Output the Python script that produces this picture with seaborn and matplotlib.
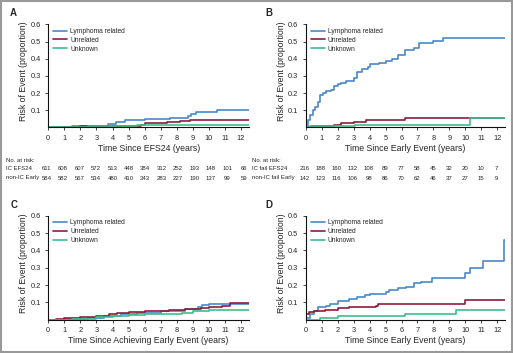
import matplotlib
matplotlib.use('Agg')
import matplotlib.pyplot as plt
import seaborn as sns
import pandas as pd

sns.set_style('ticks')
plt.rcParams['font.family'] = ['Liberation Sans', 'DejaVu Sans']

# ------------------- Data (step curves: event times and cumulative risk) -------------------
a_lymph_t = [0, 1.5, 3.0, 3.7, 4.2, 4.8, 5.5, 6.0, 7.6, 8.7, 8.9, 9.2, 10.5, 12.5]
a_lymph_y = [0, 0.005, 0.01, 0.02, 0.03, 0.04, 0.045, 0.05, 0.055, 0.065, 0.075, 0.09, 0.103, 0.103]
a_unrel_t = [0, 2.0, 3.5, 5.8, 6.0, 7.4, 8.2, 8.8, 12.5]
a_unrel_y = [0, 0.005, 0.01, 0.015, 0.025, 0.03, 0.035, 0.04, 0.04]
a_unkn_t = [0, 1.0, 2.5, 5.5, 12.5]
a_unkn_y = [0, 0.004, 0.008, 0.015, 0.015]

b_lymph_t = [0, 0.15, 0.3, 0.45, 0.6, 0.75, 0.9, 1.1, 1.3, 1.6, 1.8, 2.0, 2.2, 2.5, 3.0, 3.2, 3.5, 3.9, 4.0,
             4.6, 5.0, 5.4, 5.8, 6.2, 6.8, 7.1, 8.0, 8.6, 12.5]
b_lymph_y = [0, 0.04, 0.07, 0.1, 0.12, 0.15, 0.19, 0.2, 0.21, 0.22, 0.24, 0.25, 0.26, 0.27, 0.29, 0.32,
             0.34, 0.35, 0.37, 0.375, 0.385, 0.4, 0.42, 0.45, 0.465, 0.49, 0.505, 0.52, 0.52]
b_unrel_t = [0, 0.4, 1.8, 2.2, 3.0, 3.8, 6.2, 12.5]
b_unrel_y = [0, 0.01, 0.015, 0.025, 0.03, 0.04, 0.055, 0.055]
b_unkn_t = [0, 0.3, 3.1, 10.3, 12.5]
b_unkn_y = [0, 0.005, 0.015, 0.055, 0.055]

c_lymph_t = [0, 1.0, 2.5, 3.5, 4.5, 5.5, 7.0, 8.5, 9.3, 9.6, 10.0, 12.5]
c_lymph_y = [0, 0.005, 0.01, 0.02, 0.03, 0.04, 0.05, 0.06, 0.075, 0.085, 0.092, 0.092]
c_unrel_t = [0, 0.5, 1.0, 2.0, 3.0, 3.8, 4.3, 5.0, 6.0, 7.5, 8.5, 9.5, 10.0, 10.8, 11.3, 12.5]
c_unrel_y = [0, 0.005, 0.01, 0.015, 0.02, 0.03, 0.04, 0.045, 0.05, 0.055, 0.06, 0.065, 0.07, 0.08, 0.095, 0.095]
c_unkn_t = [0, 1.5, 3.0, 4.0, 5.0, 6.0, 8.0, 8.3, 9.0, 10.0, 12.5]
c_unkn_y = [0, 0.005, 0.015, 0.02, 0.025, 0.03, 0.035, 0.04, 0.05, 0.055, 0.055]

d_lymph_t = [0, 0.3, 0.5, 0.8, 1.3, 1.5, 2.0, 2.7, 3.2, 3.7, 4.0, 5.0, 5.2, 5.8, 6.3, 6.8, 7.2, 7.9,
             10.0, 10.3, 11.1, 12.4, 12.5]
d_lymph_y = [0.01, 0.03, 0.05, 0.07, 0.08, 0.09, 0.11, 0.12, 0.13, 0.14, 0.15, 0.16, 0.17, 0.18, 0.19,
             0.21, 0.22, 0.24, 0.27, 0.30, 0.34, 0.46, 0.46]
d_unrel_t = [0, 0.2, 0.5, 1.2, 2.0, 2.7, 4.4, 4.5, 10.0, 12.5]
d_unrel_y = [0.03, 0.045, 0.05, 0.055, 0.065, 0.075, 0.08, 0.09, 0.115, 0.115]
d_unkn_t = [0, 0.9, 2.0, 6.2, 9.4, 12.5]
d_unkn_y = [0, 0.01, 0.02, 0.032, 0.055, 0.055]

causes = ['Lymphoma related', 'Unrelated', 'Unknown']
colors = ['#4a87c9', '#8c1c3c', '#3dbe8c']

x_labels = ['Time Since EFS24 (years)', 'Time Since Early Event (years)',
            'Time Since Achieving Early Event (years)', 'Time Since Early Event (years)']
panel_letters = ['A', 'B', 'C', 'D']

risk_times = list(range(13))
a_risk_labels = ['IC EFS24', 'non-IC Early']
a_risk_ic = [611, 608, 607, 572, 513, 448, 384, 312, 252, 193, 148, 101, 66]
a_risk_nonic = [584, 582, 567, 534, 480, 410, 343, 283, 227, 190, 137, 99, 59]
b_risk_labels = ['IC fail EFS24', 'non-IC fail Early']
b_risk_ic = [216, 188, 160, 132, 108, 89, 77, 58, 45, 32, 20, 10, 7]
b_risk_nonic = [142, 123, 116, 106, 98, 86, 70, 62, 46, 37, 27, 15, 9]

panels = [
    [(a_lymph_t, a_lymph_y), (a_unrel_t, a_unrel_y), (a_unkn_t, a_unkn_y)],
    [(b_lymph_t, b_lymph_y), (b_unrel_t, b_unrel_y), (b_unkn_t, b_unkn_y)],
    [(c_lymph_t, c_lymph_y), (c_unrel_t, c_unrel_y), (c_unkn_t, c_unkn_y)],
    [(d_lymph_t, d_lymph_y), (d_unrel_t, d_unrel_y), (d_unkn_t, d_unkn_y)],
]

# ------------------- Figure layout (pixel based) -------------------
W, H = 513, 353
fig = plt.figure(figsize=(W / 100, H / 100), dpi=100)

def px_axes(left, right, zero_y, unit):
    top = zero_y - 0.62 / 0.1 * unit
    return fig.add_axes([left / W, (H - zero_y) / H, (right - left) / W, (zero_y - top) / H])

axes = [
    px_axes(48.3, 249.0, 127.3, 17.15),
    px_axes(305.7, 505.3, 127.3, 17.15),
    px_axes(48.3, 249.0, 319.6, 17.3),
    px_axes(305.7, 505.3, 319.6, 17.3),
]

for i, ax in enumerate(axes):
    for (t, y), name, col in zip(panels[i], causes, colors):
        df = pd.DataFrame({'t': t, 'y': y})
        sns.lineplot(data=df, x='t', y='y', ax=ax, color=col, lw=1.2, drawstyle='steps-post',
                     estimator=None, sort=False, label=name)
    ax.set_xlim(0, 12.5)
    ax.set_ylim(0, 0.62)
    ax.set_xticks(range(13))
    ax.set_yticks([0.1, 0.2, 0.3, 0.4, 0.5, 0.6])
    ax.set_yticklabels(['0.1', '0.2', '0.3', '0.4', '0.5', '0.6'])
    ax.spines['left'].set_bounds(0, 0.6)
    sns.despine(ax=ax)
    ax.tick_params(axis='both', labelsize=5.3, length=2.5, width=0.6, pad=2.8, color='#222222')
    for s in ['left', 'bottom']:
        ax.spines[s].set_linewidth(0.8)
        ax.spines[s].set_color('#111111')
    ax.set_xlabel(x_labels[i], fontsize=6.3)
    ax.xaxis.set_label_coords(0.5, -0.155)
    ax.set_ylabel('Risk of Event (proportion)', fontsize=6.3)
    ax.yaxis.set_label_coords(-0.1, 0.53)
    ax.legend(loc='upper left', bbox_to_anchor=(0.025, 0.935), frameon=False, fontsize=4.8,
              handlelength=2.1, handletextpad=0.45, labelspacing=0.28, borderaxespad=0, borderpad=0)

# Panel letters
letter_pos = [(10, 12.5), (265.5, 12.5), (10.5, 205), (265.5, 205)]
for letter, (lx, ly) in zip(panel_letters, letter_pos):
    fig.text(lx / W, 1 - ly / H, letter, fontsize=7, fontweight='bold', va='center')

# Number at risk tables
def risk_table(x0, x_zero, unit, labels, rows):
    fig.text(x0 / W, 1 - 160 / H, 'No. at risk:', fontsize=4.3, va='center')
    for r, (lab, vals) in enumerate(zip(labels, rows)):
        ypx = 169 + 9 * r
        fig.text(x0 / W, 1 - ypx / H, lab, fontsize=4.3, va='center')
        for t, v in zip(risk_times, vals):
            fig.text((x_zero + t * unit) / W, 1 - ypx / H, str(v), fontsize=4.3, va='center', ha='center')

risk_table(6, 46.7, 16.42, a_risk_labels, [a_risk_ic, a_risk_nonic])
risk_table(252, 304.7, 16.0, b_risk_labels, [b_risk_ic, b_risk_nonic])

# Border
fig.patches.append(plt.Rectangle((0.002, 0.003), 0.996, 0.994, transform=fig.transFigure,
                                 fill=False, edgecolor='#999999', lw=1.5))

fig.savefig('out.png', dpi=100)
